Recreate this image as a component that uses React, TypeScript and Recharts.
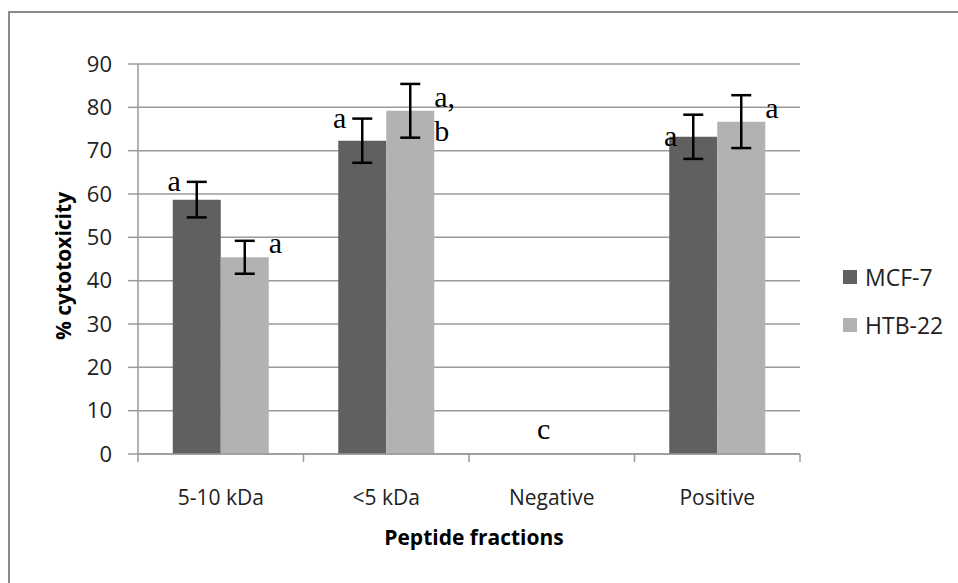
import {
  BarChart,
  Bar,
  XAxis,
  YAxis,
  CartesianGrid,
  ErrorBar,
  LabelList,
  Legend,
  ReferenceDot,
} from "recharts";

const categories = ["5-10 kDa", "<5 kDa", "Negative", "Positive"];
const mcf7 = [58.7, 72.3, 0, 73.2];
const mcf7Err = [4.1, 5.1, 0, 5.1];
const mcf7Letters = ["a", "a", "c", "a"];
const htb22 = [45.4, 79.2, 0, 76.7];
const htb22Err = [3.8, 6.2, 0, 6.1];
const htb22Letters = ["a", "a, b", "", "a"];
const seriesNames = ["MCF-7", "HTB-22"];
const yTicks = [0, 10, 20, 30, 40, 50, 60, 70, 80, 90];

const SANS = "'Open Sans', 'DejaVu Sans', sans-serif";
const SERIF = "'Liberation Serif', 'Times New Roman', serif";
const GRID = "#9a9a9a";
const DARK = "#606060";
const LIGHT = "#b2b2b2";
const LEGEND_W = 150;

const data = categories.map((name, i) => ({
  name,
  mcf7: mcf7[i],
  mcf7Err: mcf7Err[i],
  mcf7Letter: mcf7[i] > 0 ? mcf7Letters[i] : "",
  htb22: htb22[i],
  htb22Err: htb22Err[i],
  htb22Letter: htb22Letters[i],
}));

// groups where nothing was measured get a single letter sitting on the axis
const zeroGroups = categories
  .map((name, i) => ({ name, letter: mcf7Letters[i], empty: mcf7[i] === 0 && htb22[i] === 0 }))
  .filter((g) => g.empty);

// MCF-7 letters sit at the bar's upper left corner, level with the error cap
const McfLetter = (props: any) => {
  const { x, y, height, value, index } = props;
  if (!value) return null;
  const row = data[index];
  const perUnit = row && row.mcf7 ? height / row.mcf7 : 0;
  const capY = y - (row ? row.mcf7Err : 0) * perUnit;
  return (
    <text x={x + 8} y={capY + 9} textAnchor="end" fontFamily={SERIF} fontSize={30} fill="#000">
      {value}
    </text>
  );
};

// HTB-22 letters sit at the bar's right edge
const HtbLetter = (props: any) => {
  const { x, y, width, value } = props;
  if (!value) return null;
  const lines = String(value).split(" ");
  return (
    <text x={x + width} y={y - 4} textAnchor="start" fontFamily={SERIF} fontSize={30} fill="#000">
      {lines.map((l, i) => (
        <tspan key={i} x={x + width} dy={i === 0 ? 0 : 34}>
          {l}
        </tspan>
      ))}
    </text>
  );
};

const BAND = (800 - 138) / categories.length;

const CategoryTick = (props: any) => {
  const { x, y, payload, index } = props;
  const left = x - BAND / 2;
  return (
    <g>
      <line x1={left} x2={left} y1={y} y2={y + 8} stroke={GRID} strokeWidth={1.5} />
      {index === categories.length - 1 && (
        <line x1={x + BAND / 2} x2={x + BAND / 2} y1={y} y2={y + 8} stroke={GRID} strokeWidth={1.5} />
      )}
      <text x={x} y={y + 51} textAnchor="middle" fontFamily={SANS} fontSize={21} fill="#222">
        {payload.value}
      </text>
    </g>
  );
};

const LegendBox = (props: any) => {
  const items = [...(props.payload || [])].sort(
    (a: any, b: any) => seriesNames.indexOf(a.value) - seriesNames.indexOf(b.value)
  );
  return (
    <div style={{ width: LEGEND_W, paddingLeft: 43, boxSizing: "border-box", whiteSpace: "nowrap" }}>
      {items.map((p: any) => (
        <div key={p.value} style={{ display: "flex", alignItems: "center", height: 48 }}>
          <span style={{ display: "inline-block", flex: "none", width: 14, height: 14, background: p.color, marginRight: 8 }} />
          <span style={{ fontFamily: SANS, fontSize: 23, color: "#222" }}>{p.value}</span>
        </div>
      ))}
    </div>
  );
};

export default function App() {
  return (
    <div style={{ position: "absolute", left: 0, top: 0, width: 958, height: 583, background: "#fff", overflow: "hidden" }}>
      <div
        style={{
          position: "absolute",
          left: 8,
          top: 11,
          width: 960,
          height: 600,
          borderTop: "2px solid #8a8a8a",
          borderLeft: "2px solid #8a8a8a",
        }}
      />
      <BarChart
        width={958}
        height={583}
        data={data}
        margin={{ top: 64, right: 158 - LEGEND_W, bottom: 0, left: 0 }}
        barCategoryGap="21%"
        barGap={0}
      >
        <CartesianGrid vertical={false} stroke={GRID} strokeWidth={1.5} />
        <XAxis
          dataKey="name"
          height={129}
          tickSize={0}
          tickMargin={0}
          tickLine={false}
          axisLine={{ stroke: GRID, strokeWidth: 1.5 }}
          tick={<CategoryTick />}
          interval={0}
          label={{
            content: (p: any) => {
              const vb = p.viewBox;
              return (
                <text
                  x={vb.x + vb.width / 2 + 5}
                  y={545}
                  textAnchor="middle"
                  fontFamily={SANS}
                  fontWeight="bold"
                  fontSize={21}
                  fill="#000"
                >
                  Peptide fractions
                </text>
              );
            },
          }}
        />
        <YAxis
          width={138}
          domain={[0, 90]}
          ticks={yTicks}
          interval={0}
          tickSize={10}
          tickMargin={16}
          tickLine={{ stroke: GRID, strokeWidth: 1.5 }}
          axisLine={{ stroke: GRID, strokeWidth: 1.5 }}
          tick={{ fontFamily: SANS, fontSize: 22, fill: "#222" }}
          label={{
            content: () => (
              <text
                x={63}
                y={266}
                transform="rotate(-90, 63, 266)"
                textAnchor="middle"
                dominantBaseline="central"
                fontFamily={SANS}
                fontWeight="bold"
                fontSize={21}
                fill="#000"
              >
                % cytotoxicity
              </text>
            ),
          }}
        />
        <Legend
          layout="vertical"
          align="right"
          verticalAlign="middle"
          content={<LegendBox />}
          wrapperStyle={{ top: 253 }}
        />
        <Bar dataKey="mcf7" name="MCF-7" fill={DARK} isAnimationActive={false}>
          <ErrorBar dataKey="mcf7Err" width={10} stroke="#000" strokeWidth={2.5} />
          <LabelList dataKey="mcf7Letter" content={<McfLetter />} />
        </Bar>
        <Bar dataKey="htb22" name="HTB-22" fill={LIGHT} isAnimationActive={false}>
          <ErrorBar dataKey="htb22Err" width={10} stroke="#000" strokeWidth={2.5} />
          <LabelList dataKey="htb22Letter" content={<HtbLetter />} />
        </Bar>
        {zeroGroups.map((g) => (
          <ReferenceDot
            key={g.name}
            x={g.name}
            y={0}
            r={0}
            fill="none"
            stroke="none"
            label={{
              content: (p: any) => {
                const vb = p.viewBox || {};
                const cx = (vb.x ?? 0) + (vb.width ?? 0) / 2;
                const cy = (vb.y ?? 0) + (vb.height ?? 0) / 2;
                return (
                  <text x={cx - 8} y={cy - 15} textAnchor="middle" fontFamily={SERIF} fontSize={30} fill="#000">
                    {g.letter}
                  </text>
                );
              },
            }}
          />
        ))}
      </BarChart>
    </div>
  );
}
